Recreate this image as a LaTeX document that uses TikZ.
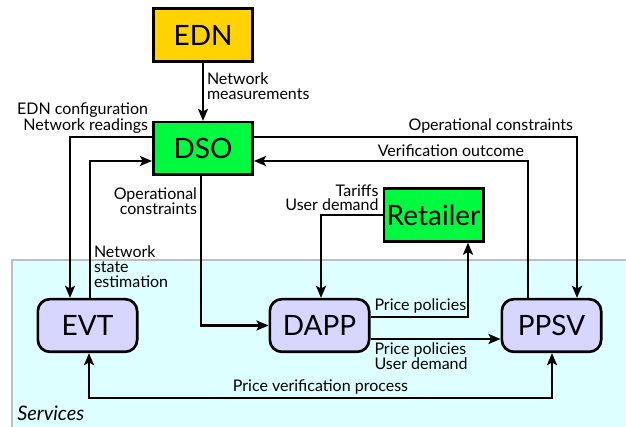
\documentclass[tikz,border=0pt]{standalone}
\usepackage{fontspec}
\setmainfont{Lato}
\usepackage{tikz}
\usetikzlibrary{arrows.meta,calc,positioning}

\definecolor{ednyellow}{RGB}{255,210,0}
\definecolor{actorgreen}{RGB}{0,250,64}
\definecolor{servlilac}{RGB}{214,214,255}
\definecolor{servcyan}{RGB}{221,255,255}
\definecolor{servborder}{RGB}{190,190,190}

\tikzset{
  actor/.style={draw=black, line width=2pt, minimum width=74.5pt, minimum height=39.5pt,
    inner sep=0pt, font=\fontsize{21}{21}\selectfont},
  service/.style={actor, fill=servlilac, rounded corners=9pt},
  flow/.style={line width=2pt, -{Stealth[length=9pt,width=7.5pt,inset=2pt]}},
  biflow/.style={flow, {Stealth[length=9pt,width=7.5pt,inset=2pt]}-{Stealth[length=9pt,width=7.5pt,inset=2pt]}},
  lbl/.style={font=\fontsize{12}{11}\selectfont, inner sep=2pt},
}

\begin{document}
\begin{tikzpicture}[x=0.75pt,y=-0.75pt]
  \useasboundingbox (0,0) rectangle (626,427);

  % services area
  \draw[servborder, fill=servcyan, line width=2pt] (12,260) rectangle (660,460);
  \node[font=\fontsize{15}{15}\selectfont\itshape, anchor=south west, inner sep=0pt] (services) at (17,421) {Services};

  \node[actor, fill=ednyellow] (edn) at (203,35) {EDN} ; %
  \node[actor, fill=actorgreen] (dso) at (203,148.5) {DSO} ; %
  \node[actor, fill=actorgreen] (ret) at (433.5,215) {Retailer} ; %
  \node[service] (evt) at (87.5,325.5) {EVT} ; %
  \node[service] (dapp) at (319.5,325.5) {DAPP} ; %
  \node[service] (ppsv) at (551.5,325.5) {PPSV} ; %

  \draw[flow] (edn) -- node[lbl, right, align=left, pos=0.4] {Network\\measurements} (dso);

  \draw[flow] ($(dso.west)+(0,-11.5)$) node[lbl, anchor=south east, align=right] {EDN configuration\\Network readings}
    -| ($(evt.north)+(-17.5,0)$);
  \draw[flow] ($(evt.north)+(2.5,0)$) node[lbl, anchor=south west, align=left, yshift=5pt] {Network\\state\\estimation}
    |- ($(dso.west)+(0,12.5)$);

  \draw[flow] ($(dso.south)+(-2,0)$) node[lbl, anchor=north east, align=right, yshift=-6pt] {Operational\\constraints}
    |- (dapp.west);

  \draw[flow] (ret.west) node[lbl, anchor=south east, align=right] {Tariffs\\User demand}
    -| ($(dapp.north)+(1.5,0)$);
  \draw[flow] ($(dapp.east)+(0,-8.5)$) node[lbl, anchor=south west] {Price policies}
    -| ($(ret.south)+(34.5,0)$);
  \draw[flow] ($(dapp.east)+(0,13.5)$) node[lbl, anchor=north west, align=left] {Price policies\\User demand}
    -- ($(ppsv.west)+(0,13.5)$);

  \draw[flow] ($(ppsv.north)+(-23.5,0)$) |- node[lbl, anchor=south east, pos=0.5] {Verification outcome}
    ($(dso.east)+(0,12.5)$);
  \draw[flow] ($(dso.east)+(0,-11.5)$) -| node[lbl, anchor=south east, pos=0.5] {Operational constraints}
    ($(ppsv.north)+(25.5,0)$);

  \draw[biflow] ($(evt.south)+(1.5,0)$) -- ++(0,45) -| node[lbl, above, pos=0.25] {Price verification process}
    ($(ppsv.south)+(0.5,0)$);

\end{tikzpicture}
\end{document}
